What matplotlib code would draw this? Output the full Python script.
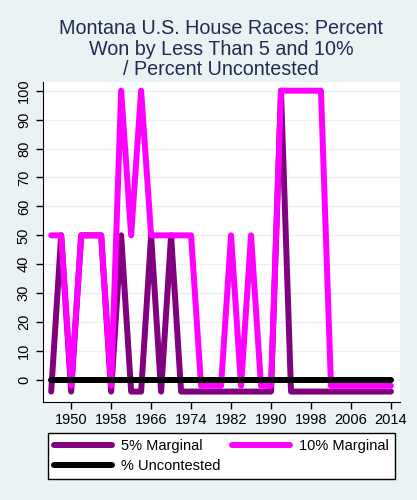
import numpy as np
import matplotlib.pyplot as plt

# election years, two-year cycle
years = list(range(1946, 2015, 2))

# zeros are drawn slightly below 0 in the original so the lines don't hide each other
marg5 = ([-4, 50, -4, 50, 50, 50, -4, 50, -4, -4, 50, -4, 50, -4]   # 1946-1972
         + [-4] * 9                                                 # 1974-1990
         + [100]                                                    # 1992
         + [-4] * 11)                                               # 1994-2014
marg10 = ([50, 50, -2, 50, 50, 50, -2, 100, 50, 100, 50, 50, 50, 50]  # 1946-1972
          + [50, -2, -2, -2, 50, -2, 50, -2, -2]                       # 1974-1990
          + [100, 100, 100, 100, 100]                                  # 1992-2000
          + [-2] * 7)                                                  # 2002-2014
uncont = [0] * len(years)
assert len(marg5) == len(years) and len(marg10) == len(years)

xticks = list(range(1950, 2015, 8))
yticks = list(range(0, 101, 10))

bg = '#eaf2f3'
plt.rcParams['font.family'] = ['Liberation Sans', 'DejaVu Sans']

fig = plt.figure(figsize=(4.17, 5.0), dpi=100, facecolor=bg)
ax = fig.add_axes([0.1024, 0.1966, 0.8566, 0.6394])
ax.set_facecolor('white')

l1, = ax.plot(years, marg5, color='#800080', lw=4.3, solid_capstyle='round',
              solid_joinstyle='round', label='5% Marginal', zorder=3)
l2, = ax.plot(years, marg10, color='#ff00ff', lw=4.3, solid_capstyle='round',
              solid_joinstyle='round', label='10% Marginal', zorder=4)
l3, = ax.plot(years, uncont, color='black', lw=4.3, solid_capstyle='round',
              label='% Uncontested', zorder=5)

ax.set_xlim(1944.3, 2015.8)
ax.set_ylim(-7.5, 103)
ax.set_xticks(xticks)
ax.set_yticks(yticks)
ax.tick_params(axis='both', labelsize=10.5, length=5, width=1, colors='black')
ax.tick_params(axis='x', pad=3)
for lab in ax.get_yticklabels():
    lab.set_rotation(90)
    lab.set_va('center')
ax.grid(axis='y', color='#eaf2f3', lw=1)
ax.set_axisbelow(True)
for s in ['top', 'right']:
    ax.spines[s].set_visible(False)

ax.set_title('Montana U.S. House Races: Percent\nWon by Less Than 5 and 10%\n/ Percent Uncontested',
             fontsize=14.2, color='#1e2d53', linespacing=1.1, pad=5)

leg = fig.legend([l1, l3, l2], ['5% Marginal', '% Uncontested', '10% Marginal'],
                 ncol=2, loc='lower left', mode='expand',
                 bbox_to_anchor=(47.7 / 417, 1 - 479.3 / 500, 347 / 417, 46 / 500),
                 fontsize=10.5, handlelength=4.0, fancybox=False, edgecolor='black',
                 framealpha=1, borderaxespad=0, labelspacing=0.42, handletextpad=0.6,
                 borderpad=0.42)
leg.get_frame().set_linewidth(1)

plt.savefig('out.png', dpi=100, facecolor=bg)
